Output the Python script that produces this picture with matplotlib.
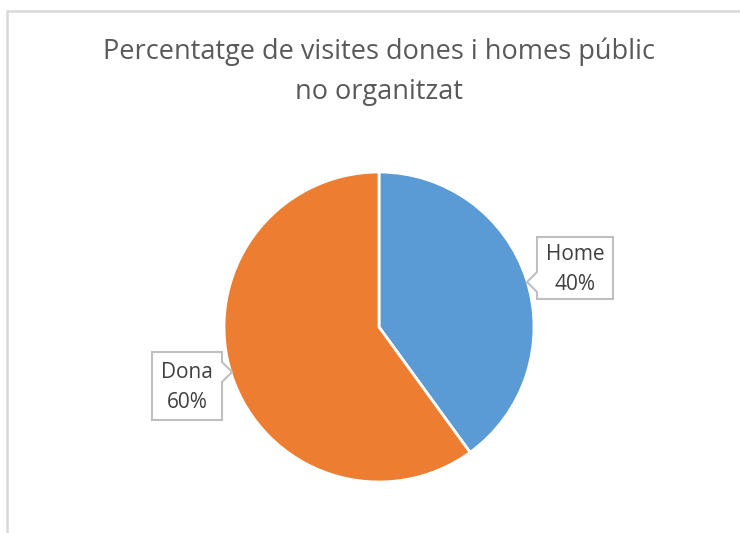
import matplotlib
matplotlib.use("Agg")
import matplotlib.pyplot as plt
from matplotlib.patches import Polygon

categories = ["Home", "Dona"]
values = [40, 60]
colors = ["#5B9BD5", "#ED7D31"]
title_lines = ["Percentatge de visites dones i homes públic", "no organitzat"]

W, H = 740, 533
fig = plt.figure(figsize=(W / 100, H / 100), dpi=100)
ax = fig.add_axes([0, 0, 1, 1])

def py(y):
    return H - y

cx, cy, r = 379, 327, 155
ax.pie(values, colors=colors, startangle=90, counterclock=False,
       center=(cx, py(cy)), radius=r, frame=True,
       wedgeprops=dict(edgecolor="white", linewidth=2))
ax.set_xlim(0, W)
ax.set_ylim(0, H)
ax.set_aspect("equal")
ax.axis("off")

# chart border (top and left visible)
ax.plot([7, 7, W + 20], [py(H + 20), py(11), py(11)], color="#D9D9D9", lw=1.8,
        solid_joinstyle="miter", clip_on=False)

ax.text(379, py(52), title_lines[0], ha="center", va="center",
        fontsize=19.5, color="#595959", family="Open Sans")
ax.text(379, py(92), title_lines[1], ha="center", va="center",
        fontsize=19.5, color="#595959", family="Open Sans")

def callout(x0, x1, y0, y1, side, ny, tipx, label, pct):
    if side == "left":
        pts = [(x0, y0), (x1, y0), (x1, y1), (x0, y1), (x0, ny + 10), (tipx, ny), (x0, ny - 10)]
    else:
        pts = [(x0, y0), (x1, y0), (x1, ny - 10), (tipx, ny), (x1, ny + 10), (x1, y1), (x0, y1)]
    pts = [(x, py(y)) for x, y in pts]
    ax.add_patch(Polygon(pts, closed=True, facecolor="white", edgecolor="#BFBFBF", lw=1.5, zorder=5))
    xm = (x0 + x1) / 2
    ym = (y0 + y1) / 2
    ax.text(xm, py(ym - 14), label, ha="center", va="center",
            fontsize=15, color="#404040", family="Open Sans", zorder=6)
    ax.text(xm, py(ym + 16), pct, ha="center", va="center",
            fontsize=15, color="#404040", family="Open Sans", zorder=6)

pct = [f"{v / sum(values) * 100:.0f}%" for v in values]
callout(537, 613, 237, 299, "left", 282, 527, categories[0], pct[0])
callout(152, 222, 352, 420, "right", 372, 232, categories[1], pct[1])

fig.savefig("out.png", dpi=100)
